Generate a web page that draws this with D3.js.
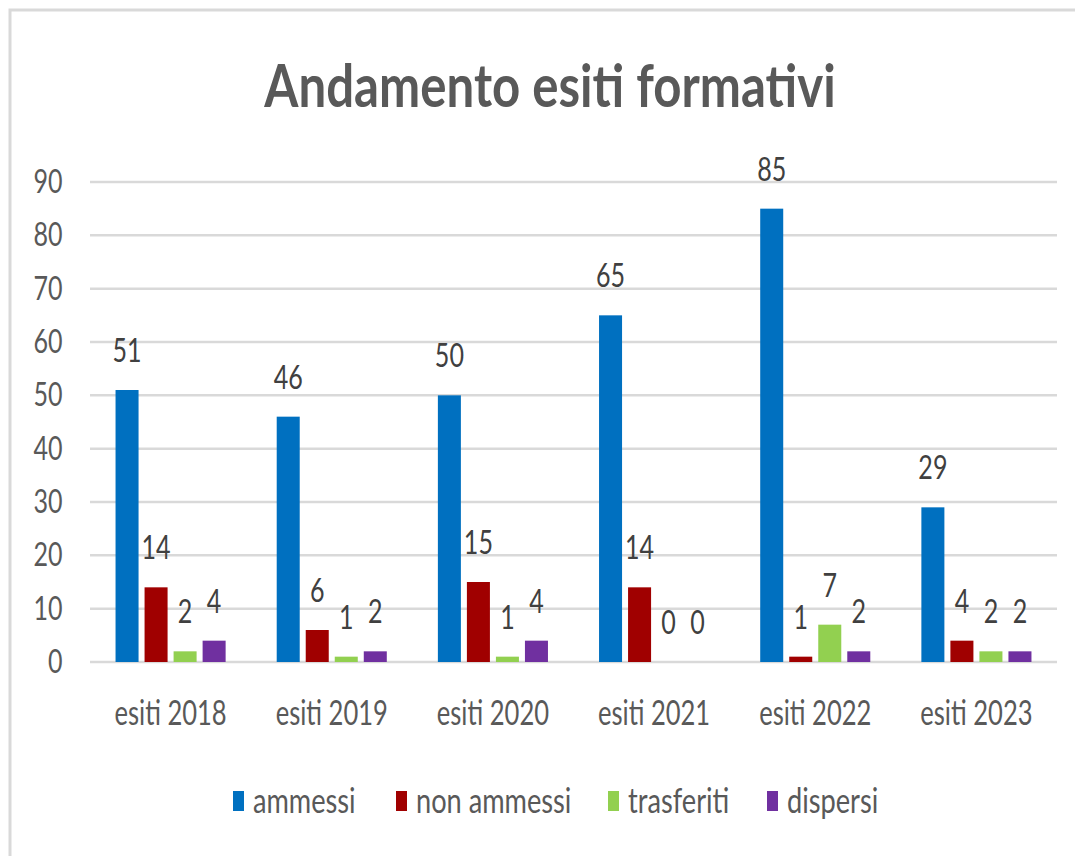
<!DOCTYPE html>
<html>
<head>
<meta charset="utf-8">
<script src="https://cdn.jsdelivr.net/npm/d3@7"></script>
<style>
  body { margin: 0; background: #fff; }
  svg text { font-family: Lato, "Open Sans", sans-serif; fill: #595959; }
</style>
</head>
<body>
<svg width="1075" height="856"></svg>
<script>
// data
const CATEGORIES = ['esiti 2018', 'esiti 2019', 'esiti 2020', 'esiti 2021', 'esiti 2022', 'esiti 2023'];
const SERIES = ['ammessi', 'non ammessi', 'trasferiti', 'dispersi'];
const AMMESSI = [51, 46, 50, 65, 85, 29];
const NON_AMMESSI = [14, 6, 15, 14, 1, 4];
const TRASFERITI = [2, 1, 1, 0, 7, 2];
const DISPERSI = [4, 2, 4, 0, 2, 2];
const Y_TICKS = [0, 10, 20, 30, 40, 50, 60, 70, 80, 90];
const COLORS = ['#0070c0', '#a00000', '#92d050', '#7030a0'];

const VALUES = [AMMESSI, NON_AMMESSI, TRASFERITI, DISPERSI];
const SX = 0.76; // text looks squeezed sideways

const svg = d3.select('svg');

// outer frame (only top + left visible)
svg.append('rect')
    .attr('x', 10).attr('y', 10)
    .attr('width', 1200).attr('height', 1000)
    .attr('fill', 'none')
    .attr('stroke', '#d9d9d9')
    .attr('stroke-width', 3);

// title
svg.append('text')
    .attr('transform', 'translate(550,107) scale(0.82,1)')
    .attr('text-anchor', 'middle')
    .style('font-size', '60px')
    .style('font-weight', 'bold')
    .text('Andamento esiti formativi');

const x0 = d3.scaleBand().domain(CATEGORIES).range([90, 1057]);
const x1 = d3.scaleBand().domain(SERIES).range([0, x0.bandwidth()])
    .paddingInner(0.207).paddingOuter(0.88);
const y = d3.scaleLinear().domain([0, 90]).range([662, 182]);

// gridlines
svg.append('g')
    .selectAll('line')
    .data(Y_TICKS)
    .enter()
    .append('line')
    .attr('x1', 90).attr('x2', 1057)
    .attr('y1', d => y(d)).attr('y2', d => y(d))
    .attr('stroke', '#d9d9d9')
    .attr('stroke-width', 2.5);

// y axis labels
const yAxis = svg.append('g')
    .attr('transform', 'translate(90,0)')
    .call(d3.axisLeft(y).tickValues(Y_TICKS).tickSize(0).tickPadding(36));
yAxis.select('.domain').remove();
yAxis.selectAll('text')
    .style('font-size', '33px')
    .attr('transform', `scale(${SX},1)`)
    .attr('fill', '#595959');

// x axis labels
const xAxis = svg.append('g')
    .attr('transform', 'translate(0,662)')
    .call(d3.axisBottom(x0).tickSize(0).tickPadding(38));
xAxis.select('.domain').remove();
xAxis.selectAll('text')
    .style('font-size', '35px')
    .attr('dy', '0.71em')
    .attr('transform', `scale(${SX - 0.03},1)`)
    .attr('fill', '#595959');

// bars
const rows = CATEGORIES.map((c, i) => ({
    cat: c,
    vals: SERIES.map((s, j) => ({ key: s, value: VALUES[j][i], color: COLORS[j] }))
}));

const groups = svg.selectAll('.grp')
    .data(rows)
    .enter()
    .append('g')
    .attr('class', 'grp')
    .attr('transform', d => `translate(${x0(d.cat)},0)`);

groups.selectAll('rect')
    .data(d => d.vals)
    .enter()
    .append('rect')
    .attr('x', d => x1(d.key))
    .attr('y', d => y(d.value))
    .attr('width', x1.bandwidth())
    .attr('height', d => y(0) - y(d.value))
    .attr('fill', d => d.color);

// value labels
groups.selectAll('.label')
    .data(d => d.vals)
    .enter()
    .append('text')
    .attr('class', 'label')
    .attr('transform', d => `translate(${x1(d.key) + x1.bandwidth() / 2},${y(d.value) - 28}) scale(${SX},1)`)
    .attr('text-anchor', 'middle')
    .style('font-size', '33px')
    .style('fill', '#404040')
    .text(d => d.value);

// legend
const LEGEND_X = [233, 396, 608, 767];
const legend = svg.append('g');
const items = legend.selectAll('g')
    .data(SERIES)
    .enter()
    .append('g')
    .attr('transform', (d, i) => `translate(${LEGEND_X[i]},801)`);
items.append('rect')
    .attr('x', 0).attr('y', -10)
    .attr('width', 11).attr('height', 20)
    .attr('fill', (d, i) => COLORS[i]);
items.append('text')
    .attr('transform', `translate(20,12) scale(0.8,1)`)
    .style('font-size', '34px')
    .text(d => d);
</script>
</body>
</html>
